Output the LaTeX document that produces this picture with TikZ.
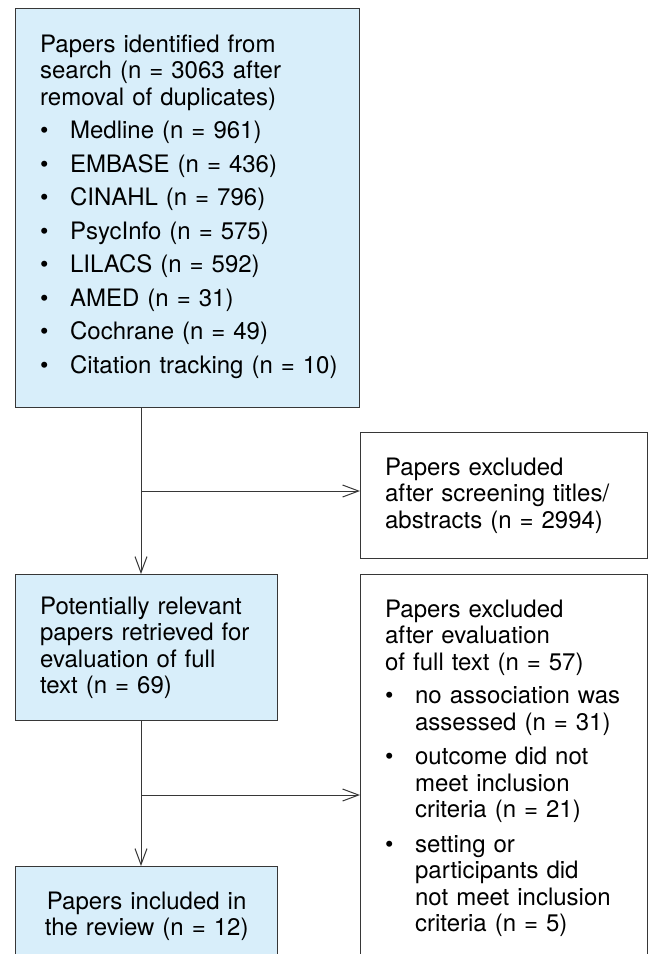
\documentclass[tikz,border=0pt]{standalone}
\usepackage{fontspec}
\setmainfont{TeX Gyre Heros}
\usetikzlibrary{arrows.meta,positioning}
\definecolor{boxblue}{RGB}{216,238,250}
\definecolor{linegray}{RGB}{55,55,55}
\newcommand\boxfont{\fontsize{24}{26.5}\selectfont\parindent=0pt\parskip=7pt}
\newcommand\bitem[1]{\par\noindent\makebox[30pt][l]{\textbullet}\begin{tabular}[t]{@{}l@{}}#1\end{tabular}}
\tikzset{
  flowbox/.style={draw=linegray,line width=1.3pt,anchor=north west,inner xsep=24.5pt,
    inner ysep=25pt,align=left,font=\boxfont},
  bluebox/.style={flowbox,fill=boxblue},
  arr/.style={draw=linegray,line width=1pt,-{Straight Barb[length=16pt,width=12pt]}},
}

\begin{document}
\begin{tikzpicture}[x=1pt,y=-1pt]
    \useasboundingbox (0,0) rectangle (654,954);
    \clip (0,0) rectangle (654,954);
    \node[bluebox,text width=295pt,minimum height=399pt] (search) at (15,8)
      {Papers identified from\\search (n = 3063 after\\removal of duplicates)
      \bitem{Medline (n = 961)}
      \bitem{EMBASE (n = 436)}
      \bitem{CINAHL (n = 796)}
      \bitem{PsycInfo (n = 575)}
      \bitem{LILACS (n = 592)}
      \bitem{AMED (n = 31)}
      \bitem{Cochrane (n = 49)}
      \bitem{Citation tracking (n = 10)}};
    \node[flowbox,text width=238pt,minimum height=118pt] (screened) at (360,432)
      {Papers excluded\\after screening titles/\\abstracts (n = 2994)};
    \node[bluebox,text width=213pt,inner ysep=22pt] (fulltext) at (15,574)
      {Potentially relevant\\papers retrieved for\\evaluation of full\\text (n = 69)};
    \node[flowbox,text width=238pt] (evaluated) at (360,574)
      {Papers excluded\\after evaluation\\of full text (n = 57)
      \bitem{no association was\\assessed (n = 31)}
      \bitem{outcome did not\\meet inclusion\\criteria (n = 21)}
      \bitem{setting or\\participants did\\not meet inclusion\\criteria (n = 5)}};
    \node[bluebox,text width=213pt,align=center] (included) at (15,866)
      {Papers included in\\the review (n = 12)};
    \coordinate (split1) at (141,491);
    \coordinate (split2) at (141,795);
    \draw[arr] (search.south -| split1) -- (fulltext.north -| split1);
    \draw[arr] (split1) -- (split1 -| screened.west);
    \draw[arr] (fulltext.south -| split2) -- (included.north -| split2);
    \draw[arr] (split2) -- (split2 -| evaluated.west);
\end{tikzpicture}
\end{document}
